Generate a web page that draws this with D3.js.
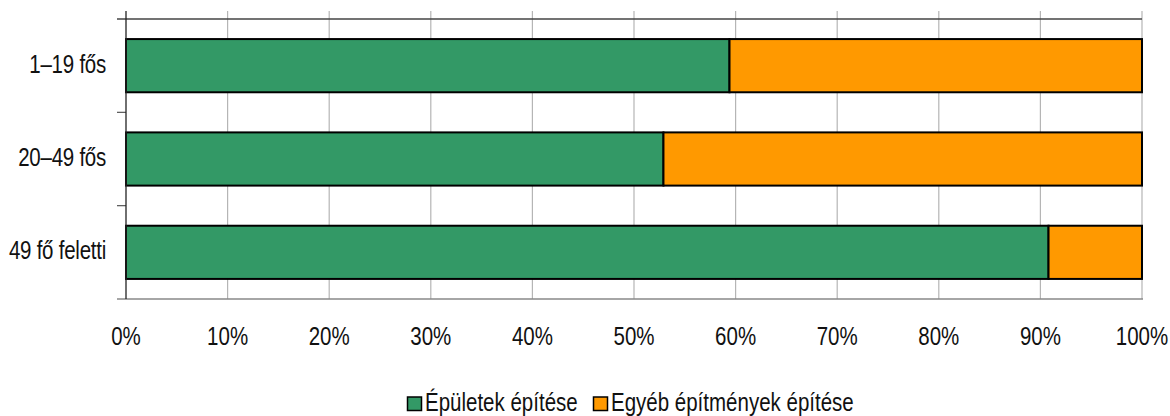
<!DOCTYPE html>
<html><head><meta charset="utf-8">
<script src="https://cdn.jsdelivr.net/npm/d3@7"></script>
<style>body{margin:0;background:#fff}svg{display:block}text{font-family:"Liberation Sans",Arial,sans-serif;fill:#111}</style>
</head><body><svg id="c" width="1170" height="416"></svg>
<script>
const categories = ["1–19 fős", "20–49 fős", "49 fő feletti"];
const seriesNames = ["Épületek építése", "Egyéb építmények építése"];
const epuletek = [59.4, 52.9, 90.8];
const egyeb = [40.6, 47.1, 9.2];
const colors = ["#339966", "#FF9900"];
const xTicks = [0,10,20,30,40,50,60,70,80,90,100];

const svg = d3.select("#c");
const L = 126, R = 1142, T = 19, B = 299;
const SX = 0.82;
const x = d3.scaleLinear().domain([0,100]).range([L,R]);
const y = d3.scaleBand().domain(categories).range([T,B]).paddingInner(0.43).paddingOuter(0.215);

svg.append("g").selectAll("line").data(xTicks.slice(1)).join("line")
  .attr("x1", d=>x(d)).attr("x2", d=>x(d)).attr("y1", 11).attr("y2", B)
  .attr("stroke", "#b5b5b5").attr("stroke-width", 1.2);

svg.append("line").attr("x1", 117).attr("x2", R).attr("y1", T).attr("y2", T).attr("stroke", "#444").attr("stroke-width", 1.3);
svg.append("line").attr("x1", 117).attr("x2", R+1).attr("y1", B).attr("y2", B).attr("stroke", "#888").attr("stroke-width", 1.5);

const bounds = d3.range(categories.length+1).map(i => T + i*(B-T)/categories.length);
svg.append("g").selectAll("line").data(bounds.slice(1,-1)).join("line")
  .attr("x1", 117).attr("x2", L).attr("y1", d=>d).attr("y2", d=>d).attr("stroke", "#555").attr("stroke-width", 1.2);

const stacked = d3.stack().keys([0,1]).value((d,k)=>d[k])(categories.map((c,i)=>[epuletek[i], egyeb[i]]));
stacked.forEach((s, si) => {
  svg.append("g").selectAll("rect").data(s).join("rect")
    .attr("x", d=>x(d[0])).attr("width", d=>x(d[1])-x(d[0]))
    .attr("y", (d,i)=>y(categories[i])).attr("height", y.bandwidth())
    .attr("fill", colors[si]).attr("stroke", "#000").attr("stroke-width", 2);
});

svg.append("line").attr("x1", L).attr("x2", L).attr("y1", 11).attr("y2", B).attr("stroke", "#222").attr("stroke-width", 1.3);

svg.append("g").selectAll("text").data(xTicks).join("text")
  .attr("transform", d=>`translate(${x(d)},345) scale(${SX},1)`).attr("text-anchor","middle").attr("font-size", 25)
  .text(d=>d+"%");

svg.append("g").selectAll("text").data(categories).join("text")
  .attr("transform", d=>`translate(106,${y(d)+y.bandwidth()/2+7}) scale(${SX},1)`).attr("text-anchor","end").attr("font-size", 25)
  .attr("letter-spacing", "-0.3")
  .text(d=>d);

const legend = svg.append("g");
const lx = [407, 593];
seriesNames.forEach((n,i)=>{
  legend.append("rect").attr("x", lx[i]+0.5).attr("y", 397).attr("width", 14).attr("height", 13.5)
    .attr("fill", colors[i]).attr("stroke", "#000").attr("stroke-width", 1.5);
  legend.append("text").attr("transform", `translate(${lx[i]+18},410.5) scale(${SX},1)`).attr("font-size", 25).text(n);
});
</script></body></html>
